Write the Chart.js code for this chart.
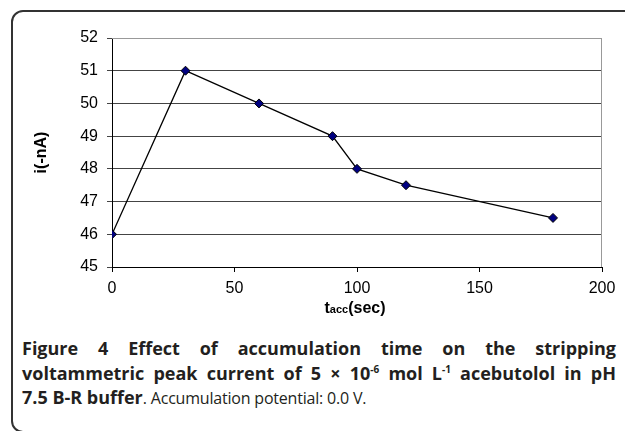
<!DOCTYPE html>
<html>
<head>
<meta charset="utf-8">
<script src="https://cdn.jsdelivr.net/npm/chart.js@4"></script>
<style>
  html, body { margin: 0; padding: 0; background: #fff; }
  body { width: 625px; height: 431px; position: relative; overflow: hidden; }
  .frame {
    position: absolute; left: 11px; top: 10px; width: 660px; height: 423px;
    border: 2px solid #333; border-radius: 12px; box-sizing: border-box;
  }
  #chart { position: absolute; left: 0; top: 0; }
  .xtitle {
    position: absolute; left: 295px; top: 299px; width: 120px; text-align: center;
    font: bold 16px "Liberation Sans", Arial, sans-serif; color: #000;
  }
  .xtitle .sub { font-size: 11px; }
  .caption {
    position: absolute; left: 22px; top: 337px; width: 594px;
    font: 16px/23.5px "Open Sans", sans-serif; letter-spacing: -0.2px; color: #231f20;
  }
  .caption div { white-space: nowrap; }
  .caption .j { text-align: justify; text-align-last: justify; }
  .caption b { font-weight: bold; font-size: 18px; letter-spacing: 0; }
  .caption sup { font-size: 10px; line-height: 0; }
</style>
</head>
<body>
<div class="frame"></div>
<canvas id="chart" width="625" height="330"></canvas>
<div class="xtitle">t<span class="sub">acc</span>(sec)</div>
<div class="caption">
  <div class="j"><b>Figure 4 Effect of accumulation time on the stripping</b></div>
  <div class="j"><b>voltammetric peak current of 5 &times; 10<sup>-6</sup> mol L<sup>-1</sup> acebutolol in pH</b></div>
  <div><b>7.5 B-R buffer</b>. Accumulation potential: 0.0 V.</div>
</div>
<script>
// 富集时间 (sec) 与峰电流 i(-nA)
const times = [0, 30, 60, 90, 100, 120, 180];
const currents = [46, 51, 50, 49, 48, 47.5, 46.5];
const xTicks = [0, 50, 100, 150, 200];
const yTicks = [45, 46, 47, 48, 49, 50, 51, 52];

// 绘图区灰色边框
const plotBorder = {
  id: 'plotBorder',
  beforeDatasetsDraw(chart) {
    const a = chart.chartArea;
    const ctx = chart.ctx;
    ctx.save();
    ctx.strokeStyle = '#999';
    ctx.lineWidth = 1;
    ctx.beginPath();
    ctx.moveTo(a.left, a.top + 0.5);
    ctx.lineTo(a.right - 0.5, a.top + 0.5);
    ctx.lineTo(a.right - 0.5, a.bottom);
    ctx.stroke();
    ctx.restore();
  }
};

const tickFont = { family: '"Liberation Sans", Arial, sans-serif', size: 16 };

new Chart(document.getElementById('chart'), {
  type: 'line',
  data: {
    datasets: [{
      data: times.map((t, i) => ({ x: t, y: currents[i] })),
      borderColor: '#000',
      borderWidth: 1.3,
      tension: 0,
      pointStyle: 'rectRot',
      pointRadius: 4.5,
      pointBackgroundColor: '#000080',
      pointBorderColor: '#000',
      pointBorderWidth: 1,
    }]
  },
  options: {
    responsive: false,
    animation: false,
    events: [],
    layout: { padding: { top: 38, right: 23, left: 0, bottom: 0 } },
    plugins: {
      legend: { display: false },
      tooltip: { enabled: false }
    },
    scales: {
      x: {
        type: 'linear',
        min: 0,
        max: 200,
        afterFit: s => { s.height = 63; },
        afterBuildTicks: s => { s.ticks = xTicks.map(v => ({ value: v })); },
        ticks: { color: '#000', font: tickFont, padding: 7, maxRotation: 0 },
        grid: { drawOnChartArea: false, color: '#000', tickLength: 5 },
        border: { display: true, color: '#000', width: 1 }
      },
      y: {
        type: 'linear',
        min: 45,
        max: 52,
        afterFit: s => { s.width = 112; },
        afterBuildTicks: s => { s.ticks = yTicks.map(v => ({ value: v })); },
        ticks: { color: '#000', font: tickFont, padding: 9 },
        grid: {
          color: ctx => (ctx.tick && ctx.tick.value === 52 ? '#999' : '#444'),
          tickColor: '#444',
          tickLength: 5
        },
        border: { display: true, color: '#000', width: 1 },
        title: {
          display: true,
          text: 'i(-nA)',
          color: '#000',
          font: { family: '"Liberation Sans", Arial, sans-serif', size: 16, weight: 'bold' },
          padding: { top: 32, bottom: 0 }
        }
      }
    }
  },
  plugins: [plotBorder]
});
</script>
</body>
</html>
